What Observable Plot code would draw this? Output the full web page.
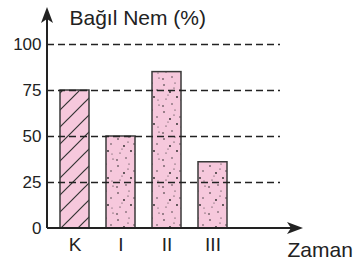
<!DOCTYPE html>
<html>
<head>
<meta charset="utf-8">
<script src="https://cdn.jsdelivr.net/npm/d3@7"></script>
<script src="https://cdn.jsdelivr.net/npm/@observablehq/plot@0.6"></script>
<style>
  html, body { margin: 0; padding: 0; background: #fff; }
  svg { display: block; }
</style>
</head>
<body>
<div id="chart"></div>
<script>
const categories = ["K", "I", "II", "III"];
const values = [75, 50, 85, 36];
const yTicks = [0, 25, 50, 75, 100];
const gridTicks = [25, 50, 75, 100];
const controlGroup = "K";
const yTitle = "Bağıl Nem (%)";
const xTitle = "Zaman";

const data = categories.map((c, i) => ({cat: c, value: values[i]}));

const pink = "#f6c8dc";
const ink = "#222";

function axesArrows(index, scales, vals, dim) {
  const g = d3.create("svg:g");
  const x0 = dim.marginLeft;
  const y0 = dim.height - dim.marginBottom;
  const yTip = dim.marginTop - 37;
  const xTip = dim.width - dim.marginRight + 23;
  g.append("line").attr("x1", x0).attr("x2", x0).attr("y1", y0).attr("y2", yTip + 10)
    .attr("stroke", ink).attr("stroke-width", 2);
  g.append("path")
    .attr("d", `M${x0},${yTip} L${x0 - 6},${yTip + 16} L${x0},${yTip + 12} L${x0 + 6},${yTip + 16} Z`)
    .attr("fill", ink);
  g.append("line").attr("x1", x0).attr("x2", xTip - 10).attr("y1", y0).attr("y2", y0)
    .attr("stroke", ink).attr("stroke-width", 2);
  g.append("path")
    .attr("d", `M${xTip},${y0} L${xTip - 16},${y0 - 6} L${xTip - 12},${y0} L${xTip - 16},${y0 + 6} Z`)
    .attr("fill", ink);
  return g.node();
}

const plot = Plot.plot({
  width: 353,
  height: 262,
  marginLeft: 47,
  marginRight: 73,
  marginTop: 44,
  marginBottom: 34,
  style: {fontFamily: "'Liberation Sans', Arial, sans-serif", color: ink, background: "#fff"},
  x: {type: "band", domain: categories, range: [58.3, 227.9], paddingInner: 0.38, paddingOuter: 0},
  y: {domain: [0, 100]},
  marks: [
    Plot.barY(data.filter(d => d.cat === controlGroup), {x: "cat", y: "value", fill: "url(#hatch)", stroke: "#3a3a3a", strokeWidth: 1.5}),
    Plot.barY(data.filter(d => d.cat !== controlGroup), {x: "cat", y: "value", fill: "url(#dots)", stroke: "#3a3a3a", strokeWidth: 1.5}),
    Plot.gridY(gridTicks, {stroke: ink, strokeOpacity: 1, strokeWidth: 1.3, strokeDasharray: "7,4"}),
    Plot.axisY(yTicks, {tickSize: 0, tickPadding: 6, fontSize: 17, label: null}),
    Plot.axisX({tickSize: 0, tickPadding: 9, fontSize: 19, label: null}),
    axesArrows,
    Plot.text([yTitle], {frameAnchor: "top-left", dx: 22, dy: -20, textAnchor: "start", lineAnchor: "bottom", fontSize: 21, fill: ink}),
    Plot.text([xTitle], {frameAnchor: "bottom-right", dx: 7, dy: 28, textAnchor: "start", lineAnchor: "bottom", fontSize: 21, fill: ink})
  ]
});

const svg = d3.select(plot);
svg.attr("overflow", "visible");
const defs = svg.insert("defs", ":first-child");
const hatch = defs.append("pattern").attr("id", "hatch").attr("patternUnits", "userSpaceOnUse")
  .attr("width", 17).attr("height", 17);
hatch.append("rect").attr("width", 17).attr("height", 17).attr("fill", pink);
hatch.append("path").attr("d", "M-2,19 L19,-2 M-2,2 L2,-2 M15,19 L19,15")
  .attr("stroke", "#333").attr("stroke-width", 1.2);
const dots = defs.append("pattern").attr("id", "dots").attr("patternUnits", "userSpaceOnUse")
  .attr("width", 23).attr("height", 27);
dots.append("rect").attr("width", 23).attr("height", 27).attr("fill", pink);
[[3,4,0.8],[14,2,0.6],[9,11,0.9],[19,9,0.7],[5,18,0.6],[16,16,0.9],[11,23,0.7],[21,24,0.6],[2,25,0.8],[13,7,0.6],[7,14,0.5],[20,19,0.5]].forEach(([cx, cy, r]) =>
  dots.append("circle").attr("cx", cx).attr("cy", cy).attr("r", r).attr("fill", "#222"));

document.getElementById("chart").appendChild(plot);
</script>
</body>
</html>
